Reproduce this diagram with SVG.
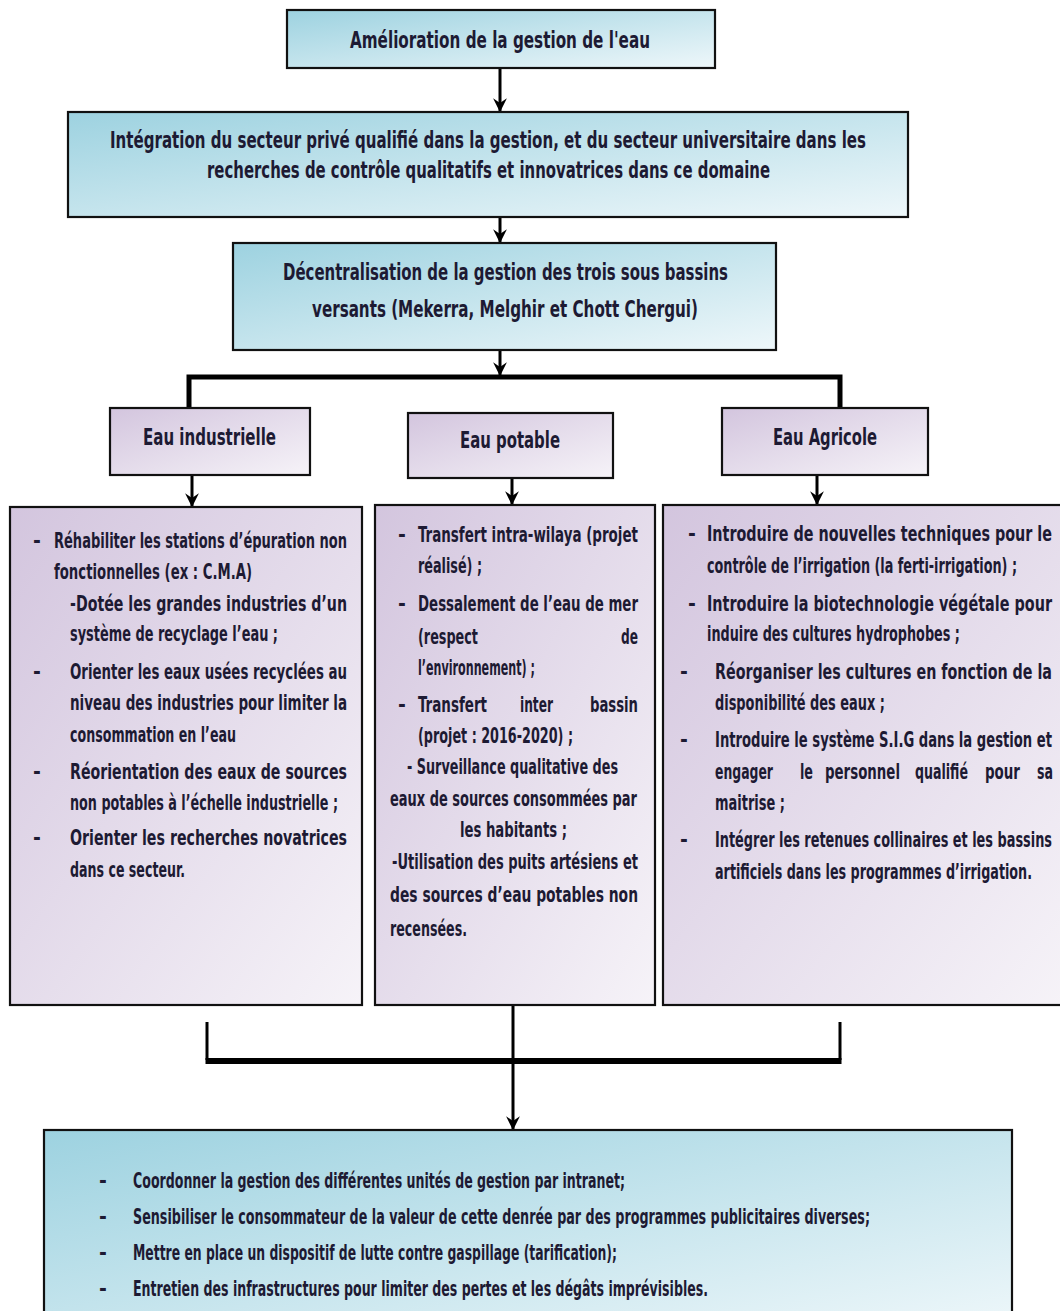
<svg xmlns="http://www.w3.org/2000/svg" width="1060" height="1311" viewBox="0 0 1060 1311">
  <defs>
    <linearGradient id="gBlue" x1="0" y1="0" x2="1" y2="1">
      <stop offset="0" stop-color="#9dd2e0"/>
      <stop offset="1" stop-color="#eef7fa"/>
    </linearGradient>
    <linearGradient id="gPurple" x1="0" y1="0" x2="1" y2="1">
      <stop offset="0" stop-color="#d3c5de"/>
      <stop offset="1" stop-color="#f6f3f8"/>
    </linearGradient>
    <marker id="arr" viewBox="0 0 12 12" refX="11" refY="6" markerWidth="4.6" markerHeight="4.6" orient="auto" markerUnits="strokeWidth">
      <path d="M0,0 L12,6 L0,12 L4,6 z" fill="#000"/>
    </marker>
    <style>
      .blue { fill: url(#gBlue); stroke: #111; stroke-width: 2.2; }
      .purple { fill: url(#gPurple); stroke: #111; stroke-width: 2.2; }
      text { font-family: "DejaVu Sans Condensed", "Liberation Sans Narrow", "Liberation Sans", sans-serif; font-stretch: condensed; fill: #1d1a33; font-weight: bold; }
      /* narrow lettering: small em, stretched vertically by each text's transform */
      .t { font-size: 13px; }
      .b { font-size: 12px; }
      .d { font-size: 21px; }
      .wire { fill: none; stroke: #000; stroke-width: 3; }
      .bar { fill: none; stroke: #000; stroke-width: 5; }
    </style>
  </defs>

  <!-- connectors -->
  <g id="connectors">
    <line class="wire" x1="500" y1="68" x2="500" y2="111" marker-end="url(#arr)"/>
    <line class="wire" x1="500" y1="217" x2="500" y2="242" marker-end="url(#arr)"/>
    <line class="wire" x1="500" y1="350" x2="500" y2="375" marker-end="url(#arr)"/>
    <polyline class="bar" points="189,409 189,377 840,377 840,409"/>
    <line class="wire" x1="192" y1="475" x2="192" y2="506" marker-end="url(#arr)"/>
    <line class="wire" x1="512" y1="478" x2="512" y2="504" marker-end="url(#arr)"/>
    <line class="wire" x1="817" y1="475" x2="817" y2="504" marker-end="url(#arr)"/>
    <polyline class="wire" points="207,1022 207,1060"/>
    <polyline class="wire" points="840,1022 840,1060"/>
    <line x1="205.5" y1="1061" x2="841.5" y2="1061" stroke="#000" stroke-width="6"/>
    <line class="wire" x1="513" y1="1005" x2="513" y2="1129" marker-end="url(#arr)"/>
  </g>

  <!-- top: goal -->
  <g id="n-amelioration">
    <rect class="blue" x="287" y="10" width="428" height="58"/>
    <text class="t" transform="translate(350 48) scale(1 1.77)" textLength="300" lengthAdjust="spacingAndGlyphs">Amélioration de la gestion de l'eau</text>
  </g>

  <g id="n-integration">
    <rect class="blue" x="68" y="112" width="840" height="105"/>
    <text class="t" transform="translate(110 148) scale(1 1.77)" textLength="756" lengthAdjust="spacingAndGlyphs">Intégration du secteur privé qualifié dans la gestion, et du secteur universitaire dans les</text>
    <text class="t" transform="translate(207 178) scale(1 1.77)" textLength="563" lengthAdjust="spacingAndGlyphs">recherches de contrôle qualitatifs et innovatrices dans ce domaine</text>
  </g>

  <g id="n-decentralisation">
    <rect class="blue" x="233" y="243" width="543" height="107"/>
    <text class="t" transform="translate(283 280) scale(1 1.77)" textLength="445" lengthAdjust="spacingAndGlyphs">Décentralisation de la gestion des trois sous bassins</text>
    <text class="t" transform="translate(312 317) scale(1 1.77)" textLength="386" lengthAdjust="spacingAndGlyphs">versants (Mekerra, Melghir et Chott Chergui)</text>
  </g>

  <!-- three sectors -->
  <g id="n-industrielle">
    <rect class="purple" x="110" y="408" width="200" height="67"/>
    <text class="t" transform="translate(143 445) scale(1 1.77)" textLength="133" lengthAdjust="spacingAndGlyphs">Eau industrielle</text>
  </g>
  <g id="n-potable">
    <rect class="purple" x="408" y="413" width="205" height="65"/>
    <text class="t" transform="translate(460 448) scale(1 1.77)" textLength="100" lengthAdjust="spacingAndGlyphs">Eau potable</text>
  </g>
  <g id="n-agricole">
    <rect class="purple" x="722" y="408" width="206" height="67"/>
    <text class="t" transform="translate(773 445) scale(1 1.77)" textLength="104" lengthAdjust="spacingAndGlyphs">Eau Agricole</text>
  </g>

  <!-- actions: industrial water -->
  <g id="n-actions-industrielle">
    <rect class="purple" x="10" y="507" width="352" height="498"/>
    <text class="d" x="33" y="548">-</text>
    <text class="b" transform="translate(54 548) scale(1 1.75)" textLength="293" lengthAdjust="spacingAndGlyphs">Réhabiliter les stations d’épuration non</text>
    <text class="b" transform="translate(54 579) scale(1 1.75)" textLength="198" lengthAdjust="spacingAndGlyphs">fonctionnelles  (ex : C.M.A)</text>
    <text class="b" transform="translate(70 611) scale(1 1.75)" textLength="277" lengthAdjust="spacingAndGlyphs">-Dotée les grandes industries d’un</text>
    <text class="b" transform="translate(70 641) scale(1 1.75)" textLength="208" lengthAdjust="spacingAndGlyphs">système de recyclage l’eau ;</text>
    <text class="d" x="33" y="679">-</text>
    <text class="b" transform="translate(70 679) scale(1 1.75)" textLength="277" lengthAdjust="spacingAndGlyphs">Orienter les eaux usées recyclées au</text>
    <text class="b" transform="translate(70 710) scale(1 1.75)" textLength="277" lengthAdjust="spacingAndGlyphs">niveau des industries pour limiter la</text>
    <text class="b" transform="translate(70 742) scale(1 1.75)" textLength="166" lengthAdjust="spacingAndGlyphs">consommation en l’eau</text>
    <text class="d" x="33" y="779">-</text>
    <text class="b" transform="translate(70 779) scale(1 1.75)" textLength="277" lengthAdjust="spacingAndGlyphs">Réorientation des eaux de sources</text>
    <text class="b" transform="translate(70 810) scale(1 1.75)" textLength="268" lengthAdjust="spacingAndGlyphs">non potables à l’échelle industrielle ;</text>
    <text class="d" x="33" y="845">-</text>
    <text class="b" transform="translate(70 845) scale(1 1.75)" textLength="277" lengthAdjust="spacingAndGlyphs">Orienter les recherches novatrices</text>
    <text class="b" transform="translate(70 877) scale(1 1.75)" textLength="115" lengthAdjust="spacingAndGlyphs">dans ce secteur.</text>
  </g>

  <!-- actions: drinking water -->
  <g id="n-actions-potable">
    <rect class="purple" x="375" y="505" width="280" height="500"/>
    <text class="d" x="398" y="542">-</text>
    <text class="b" transform="translate(418 542) scale(1 1.75)" textLength="220" lengthAdjust="spacingAndGlyphs">Transfert intra-wilaya (projet</text>
    <text class="b" transform="translate(418 573) scale(1 1.75)" textLength="64" lengthAdjust="spacingAndGlyphs">réalisé) ;</text>
    <text class="d" x="398" y="611">-</text>
    <text class="b" transform="translate(418 611) scale(1 1.75)" textLength="220" lengthAdjust="spacingAndGlyphs">Dessalement de l’eau de mer</text>
    <text class="b" transform="translate(418 644) scale(1 1.75)" textLength="60" lengthAdjust="spacingAndGlyphs">(respect</text>
    <text class="b" transform="translate(621 644) scale(1 1.75)" textLength="17" lengthAdjust="spacingAndGlyphs">de</text>
    <text class="b" transform="translate(418 675) scale(1 1.75)" textLength="117" lengthAdjust="spacingAndGlyphs">l’environnement) ;</text>
    <text class="d" x="398" y="712">-</text>
    <text class="b" transform="translate(418 712) scale(1 1.75)" textLength="69" lengthAdjust="spacingAndGlyphs">Transfert</text>
    <text class="b" transform="translate(520 712) scale(1 1.75)" textLength="33" lengthAdjust="spacingAndGlyphs">inter</text>
    <text class="b" transform="translate(590 712) scale(1 1.75)" textLength="48" lengthAdjust="spacingAndGlyphs">bassin</text>
    <text class="b" transform="translate(418 743) scale(1 1.75)" textLength="155" lengthAdjust="spacingAndGlyphs">(projet : 2016-2020) ;</text>
    <text class="b" transform="translate(407 774) scale(1 1.75)" textLength="211" lengthAdjust="spacingAndGlyphs">- Surveillance qualitative des</text>
    <text class="b" transform="translate(390 806) scale(1 1.75)" textLength="247" lengthAdjust="spacingAndGlyphs">eaux de sources consommées par</text>
    <text class="b" transform="translate(460 837) scale(1 1.75)" textLength="107" lengthAdjust="spacingAndGlyphs">les habitants ;</text>
    <text class="b" transform="translate(392 869) scale(1 1.75)" textLength="246" lengthAdjust="spacingAndGlyphs">-Utilisation des puits artésiens et</text>
    <text class="b" transform="translate(390 902) scale(1 1.75)" textLength="248" lengthAdjust="spacingAndGlyphs">des  sources  d’eau  potables  non</text>
    <text class="b" transform="translate(390 936) scale(1 1.75)" textLength="77" lengthAdjust="spacingAndGlyphs">recensées.</text>
  </g>

  <!-- actions: agricultural water -->
  <g id="n-actions-agricole">
    <rect class="purple" x="663" y="505" width="402" height="500"/>
    <text class="d" x="688" y="541">-</text>
    <text class="b" transform="translate(707 541) scale(1 1.75)" textLength="345" lengthAdjust="spacingAndGlyphs">Introduire de nouvelles techniques pour le</text>
    <text class="b" transform="translate(707 573) scale(1 1.75)" textLength="310" lengthAdjust="spacingAndGlyphs">contrôle de l’irrigation (la ferti-irrigation) ;</text>
    <text class="d" x="688" y="611">-</text>
    <text class="b" transform="translate(707 611) scale(1 1.75)" textLength="345" lengthAdjust="spacingAndGlyphs">Introduire la biotechnologie végétale pour</text>
    <text class="b" transform="translate(707 641) scale(1 1.75)" textLength="253" lengthAdjust="spacingAndGlyphs">induire des cultures hydrophobes ;</text>
    <text class="d" x="680" y="679">-</text>
    <text class="b" transform="translate(715 679) scale(1 1.75)" textLength="337" lengthAdjust="spacingAndGlyphs">Réorganiser les cultures en fonction de la</text>
    <text class="b" transform="translate(715 710) scale(1 1.75)" textLength="170" lengthAdjust="spacingAndGlyphs">disponibilité des eaux ;</text>
    <text class="d" x="680" y="747">-</text>
    <text class="b" transform="translate(715 747) scale(1 1.75)" textLength="337" lengthAdjust="spacingAndGlyphs">Introduire le système S.I.G dans la gestion et</text>
    <!-- justified line: words placed one by one -->
    <text class="b" transform="translate(715 779) scale(1 1.75)" textLength="58" lengthAdjust="spacingAndGlyphs">engager</text>
    <text class="b" transform="translate(800 779) scale(1 1.75)" textLength="13" lengthAdjust="spacingAndGlyphs">le</text>
    <text class="b" transform="translate(825 779) scale(1 1.75)" textLength="75" lengthAdjust="spacingAndGlyphs">personnel</text>
    <text class="b" transform="translate(915 779) scale(1 1.75)" textLength="53" lengthAdjust="spacingAndGlyphs">qualifié</text>
    <text class="b" transform="translate(985 779) scale(1 1.75)" textLength="35" lengthAdjust="spacingAndGlyphs">pour</text>
    <text class="b" transform="translate(1037 779) scale(1 1.75)" textLength="16" lengthAdjust="spacingAndGlyphs">sa</text>
    <text class="b" transform="translate(715 810) scale(1 1.75)" textLength="70" lengthAdjust="spacingAndGlyphs">maitrise ;</text>
    <text class="d" x="680" y="847">-</text>
    <text class="b" transform="translate(715 847) scale(1 1.75)" textLength="337" lengthAdjust="spacingAndGlyphs">Intégrer les retenues collinaires et les bassins</text>
    <text class="b" transform="translate(715 879) scale(1 1.75)" textLength="317" lengthAdjust="spacingAndGlyphs">artificiels dans les programmes d’irrigation.</text>
  </g>

  <!-- common measures -->
  <g id="n-mesures">
    <rect class="blue" x="44" y="1130" width="968" height="200"/>
    <text class="d" x="99" y="1188">-</text>
    <text class="b" transform="translate(133 1188) scale(1 1.75)" textLength="492" lengthAdjust="spacingAndGlyphs">Coordonner la gestion des différentes unités de gestion par intranet;</text>
    <text class="d" x="99" y="1224">-</text>
    <text class="b" transform="translate(133 1224) scale(1 1.75)" textLength="737" lengthAdjust="spacingAndGlyphs">Sensibiliser le consommateur de la valeur de cette denrée par des programmes publicitaires diverses;</text>
    <text class="d" x="99" y="1260">-</text>
    <text class="b" transform="translate(133 1260) scale(1 1.75)" textLength="484" lengthAdjust="spacingAndGlyphs">Mettre en place un dispositif de lutte contre gaspillage (tarification);</text>
    <text class="d" x="99" y="1296">-</text>
    <text class="b" transform="translate(133 1296) scale(1 1.75)" textLength="575" lengthAdjust="spacingAndGlyphs">Entretien des infrastructures pour limiter des pertes et les dégâts imprévisibles.</text>
  </g>
</svg>
